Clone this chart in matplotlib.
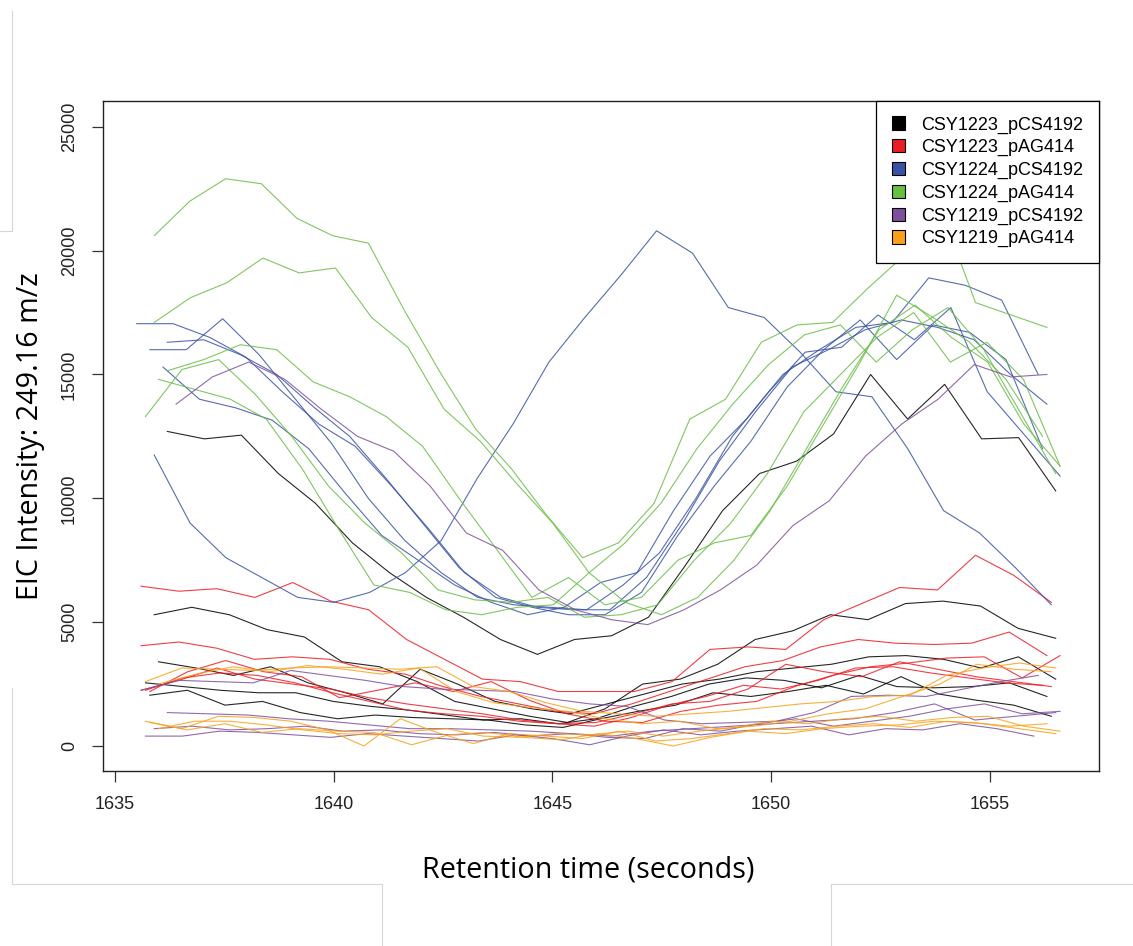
import matplotlib.pyplot as plt
import numpy as np
from matplotlib.lines import Line2D
from matplotlib.patches import Patch

# Each trace: (first retention time, last retention time, intensities)
csy1223_pcs4192 = [
    (1636.2, 1656.5, [12700, 12400, 12550, 11000, 9800, 8200, 7000, 6000, 5200, 4300, 3700, 4300, 4450,
                      5200, 7300, 9500, 11000, 11500, 12600, 15000, 13200, 14600, 12400, 12450, 10300]),
    (1635.9, 1656.5, [5300, 5600, 5300, 4700, 4400, 3400, 3200, 2600, 1800, 1500, 1200, 950, 1500,
                      2500, 2700, 3300, 4300, 4650, 5300, 5100, 5750, 5850, 5650, 4750, 4350]),
    (1636.0, 1656.5, [3400, 3150, 2850, 3200, 2550, 2150, 1700, 3100, 2500, 1800, 1500, 1300, 1700,
                      2100, 2500, 2700, 3000, 3150, 3300, 3600, 3650, 3500, 3150, 3600, 2700]),
    (1635.7, 1656.3, [2550, 2400, 2250, 2150, 2150, 1800, 1600, 1450, 1250, 1050, 1100, 900, 1100,
                      1600, 2000, 2500, 2750, 2650, 2350, 2850, 2400, 2350, 2400, 2550, 2000]),
    (1635.8, 1656.4, [2050, 2250, 1650, 1800, 1350, 1100, 1250, 1150, 1100, 1050, 850, 750, 1100,
                      1400, 1650, 2150, 2000, 2200, 2450, 2100, 2800, 2100, 1850, 1650, 1200]),
]

csy1223_pag414 = [
    (1635.6, 1656.4, [6450, 6250, 6350, 6000, 6600, 5850, 5500, 4300, 3500, 2700, 2600, 2200, 2200,
                      2200, 2600, 3900, 4000, 3900, 5100, 5750, 6400, 6300, 7700, 6900, 5800]),
    (1635.6, 1656.3, [4050, 4200, 3950, 3500, 3600, 3500, 3100, 2900, 2400, 2000, 1700, 1400, 1300,
                      1700, 2200, 2700, 3200, 3450, 4000, 4300, 4150, 4100, 4150, 4600, 3650]),
    (1635.8, 1656.6, [2200, 3000, 3450, 3000, 2800, 1950, 2250, 2550, 2200, 2600, 1850, 1300, 1000,
                      950, 1400, 1650, 1800, 2400, 2850, 3200, 3350, 3550, 3600, 2750, 3650]),
    (1635.7, 1656.2, [2250, 2750, 2950, 2850, 2550, 2150, 1800, 1450, 1300, 1200, 1000, 900, 800,
                      1150, 1650, 2000, 2450, 2300, 2650, 3150, 3200, 2950, 2750, 2550, 2450]),
    (1635.6, 1656.4, [2250, 2650, 3150, 2700, 2500, 2300, 1950, 1700, 1500, 1300, 1050, 900, 950,
                      1300, 1700, 1800, 2300, 3300, 3000, 2800, 3400, 3100, 2800, 2600, 2400]),
]

csy1224_pcs4192 = [
    (1635.9, 1656.4, [11750, 9000, 7600, 6800, 6000, 5800, 6200, 7000, 8300, 10800, 13000, 15500, 17300,
                      19000, 20800, 19900, 17700, 17300, 15900, 14300, 14100, 12000, 9500, 8600, 7200, 5700]),
    (1635.5, 1656.3, [17050, 17050, 16500, 15700, 14300, 13000, 12100, 10500, 8800, 7000, 6000, 5600, 5500,
                      5500, 6800, 9000, 11500, 13500, 15300, 16000, 16800, 17200, 16900, 16400, 15000, 13800]),
    (1635.8, 1656.6, [16000, 16000, 17250, 15800, 14000, 12200, 10000, 8300, 7000, 6000, 5700, 5600, 5500,
                      6500, 7800, 10000, 12500, 14300, 15900, 16100, 17400, 16400, 17700, 14300, 12600, 10900]),
    (1636.2, 1656.2, [16300, 16400, 15800, 15000, 13700, 12500, 10800, 9000, 7200, 6000, 5600, 5300, 5300,
                      6200, 8500, 10500, 12300, 14500, 16000, 17200, 15600, 17000, 16700, 15600, 12000]),
    (1636.1, 1656.1, [15300, 14000, 13650, 13150, 12000, 10200, 8500, 7500, 6500, 5800, 5300, 5600, 6600,
                      7000, 9500, 11700, 13200, 15000, 16000, 16900, 17100, 18900, 18600, 18000, 15000]),
]

csy1224_pag414 = [
    (1635.9, 1656.3, [20600, 22000, 22900, 22700, 21300, 20600, 20300, 17600, 15100, 12800, 11200, 9300, 7600,
                      8200, 9800, 13200, 14000, 16300, 17000, 17100, 18500, 19800, 21800, 17900, 17400, 16900]),
    (1635.9, 1656.6, [17100, 18100, 18700, 19700, 19100, 19300, 17300, 16100, 13600, 12300, 10600, 9000, 7000,
                      5800, 5300, 6000, 7500, 9500, 12000, 14500, 16800, 17800, 16500, 15500, 13000, 11300]),
    (1635.7, 1656.6, [13300, 15200, 15600, 14200, 12500, 10500, 9000, 7800, 6300, 5900, 5800, 6000, 5200,
                      5300, 5700, 7500, 9000, 11000, 13500, 15000, 16500, 17500, 15500, 16300, 14800, 11300]),
    (1636.2, 1656.2, [15150, 15600, 16200, 16000, 14700, 14100, 13300, 12100, 10000, 8000, 6000, 6800, 5700,
                      6000, 7500, 8200, 8500, 10500, 13000, 15500, 18200, 17300, 16300, 14800, 12500]),
    (1636.0, 1656.5, [14800, 14400, 14000, 13200, 11200, 8800, 6500, 6200, 5500, 5300, 5600, 5700, 7000,
                      8200, 9800, 12000, 13800, 15400, 16600, 17000, 15500, 16800, 17700, 16000, 13500, 11000]),
]

csy1219_pcs4192 = [
    (1636.4, 1656.3, [13800, 14900, 15500, 14800, 13600, 12500, 11900, 10500, 8600, 7900, 6300, 5500, 5100,
                      4900, 5500, 6300, 7300, 8900, 9900, 11700, 13000, 14000, 15400, 14900, 15000]),
    (1635.6, 1656.1, [2250, 2650, 2600, 2550, 3050, 2850, 2650, 2400, 2300, 2250, 2200, 1900, 1700,
                      1600, 1050, 900, 950, 1000, 1350, 2000, 2050, 2000, 2300, 2600, 2850]),
    (1636.2, 1656.5, [1350, 1300, 1250, 1100, 1000, 850, 700, 700, 650, 600, 500, 400, 600,
                      700, 800, 900, 1000, 1100, 1350, 1700, 1050, 1200, 1350]),
    (1635.7, 1656.0, [400, 400, 600, 550, 450, 350, 500, 400, 300, 200, 450, 300, 50,
                      400, 650, 450, 600, 700, 800, 450, 700, 650, 900, 700, 400]),
    (1635.9, 1656.6, [700, 800, 650, 700, 800, 600, 650, 500, 450, 550, 400, 500, 350,
                      300, 700, 600, 900, 1100, 800, 1000, 1200, 1500, 1700, 1300, 1400]),
]

csy1219_pag414 = [
    (1635.7, 1656.5, [2600, 3150, 3100, 3050, 3150, 3200, 3150, 3100, 3200, 2400, 2200, 1750, 1400,
                      1300, 1200, 1300, 1400, 1550, 1700, 1800, 2000, 2050, 2850, 3150, 3350, 3150]),
    (1636.0, 1656.4, [2500, 2900, 3200, 3000, 3250, 3100, 2900, 3150, 2200, 1750, 1550, 1400, 1100,
                      900, 1000, 700, 800, 1000, 1300, 1500, 2000, 2500, 3300, 3100, 3000]),
    (1635.7, 1656.5, [1000, 700, 1200, 1150, 1000, 650, 0, 1100, 550, 100, 500, 400, 300,
                      600, 200, 300, 500, 700, 650, 800, 900, 750, 1000, 900, 700, 500]),
    (1635.8, 1656.3, [950, 650, 900, 550, 700, 600, 550, 50, 450, 550, 350, 250, 500,
                      300, 0, 350, 600, 500, 700, 800, 850, 1000, 950, 800, 900]),
    (1636.0, 1656.6, [700, 1000, 1000, 850, 650, 500, 450, 600, 700, 400, 350, 500, 450,
                      600, 400, 600, 750, 1000, 900, 1100, 1200, 1000, 1150, 1200, 800, 600]),
]

groups = ["CSY1223_pCS4192", "CSY1223_pAG414", "CSY1224_pCS4192",
          "CSY1224_pAG414", "CSY1219_pCS4192", "CSY1219_pAG414"]
traces = [csy1223_pcs4192, csy1223_pag414, csy1224_pcs4192,
          csy1224_pag414, csy1219_pcs4192, csy1219_pag414]
colours = ["#000000", "#ED1C24", "#3953A4", "#6ABD45", "#7E4F9F", "#F9A11B"]

tick_font = "Liberation Sans"

fig = plt.figure(figsize=(11.33, 9.46), dpi=100)
ax = fig.add_axes([103 / 1133, 175 / 946, 996 / 1133, 670 / 946])

for group_traces, c in zip(traces, colours):
    for t0, t1, values in group_traces:
        t = np.linspace(t0, t1, len(values))
        ax.plot(t, values, color=c, lw=0.8, alpha=0.85)

ax.set_xlim(1634.73, 1657.49)
ax.set_ylim(-1009, 26040)
ax.set_xticks(np.arange(1635, 1656, 5))
ax.set_yticks(np.arange(0, 25001, 5000))

for spine in ax.spines.values():
    spine.set_linewidth(1.0)
    spine.set_color("#222222")

ax.tick_params(direction="out", length=8, width=0.9, color="#333333", labelsize=13,
               labelcolor="#222222", pad=10)
for lab in ax.get_xticklabels() + ax.get_yticklabels():
    lab.set_family(tick_font)
for lab in ax.get_yticklabels():
    lab.set_rotation(90)
    lab.set_va("center")

# Legend
handles = [Patch(facecolor=c, edgecolor="black", linewidth=0.8) for c in colours]
leg = ax.legend(handles, groups, loc="upper right", bbox_to_anchor=(1, 1), borderaxespad=0,
                fancybox=False, edgecolor="black", framealpha=1,
                prop={"family": tick_font, "size": 13},
                handlelength=0.75, handleheight=0.75, handletextpad=0.9,
                labelspacing=0.31, borderpad=0.85)
leg.get_frame().set_linewidth(0.9)

# Axis labels
fig.text(588 / 1133, 1 - 870 / 946, "Retention time (seconds)", ha="center", va="center",
         fontsize=20.7, family="Open Sans")
fig.text(31 / 1133, 1 - 436 / 946, "EIC Intensity: 249.16 m/z", ha="center", va="center",
         rotation=90, fontsize=20.7, family="Open Sans")

# Faint panel edges from the original composite
edge = dict(color="#d6d6d6", lw=0.8, transform=fig.transFigure)
W, H = 1133, 946
for xs, ys in [
    ([0, 11.7, 11.7], [231, 231, 11]),
    ([11.7, 11.7, 382, 382], [688, 884, 884, 946]),
    ([830.5, 830.5, 1133], [946, 884, 884]),
]:
    fig.add_artist(Line2D(np.array(xs) / W, 1 - np.array(ys) / H, **edge))

fig.savefig("out.png", dpi=100)
